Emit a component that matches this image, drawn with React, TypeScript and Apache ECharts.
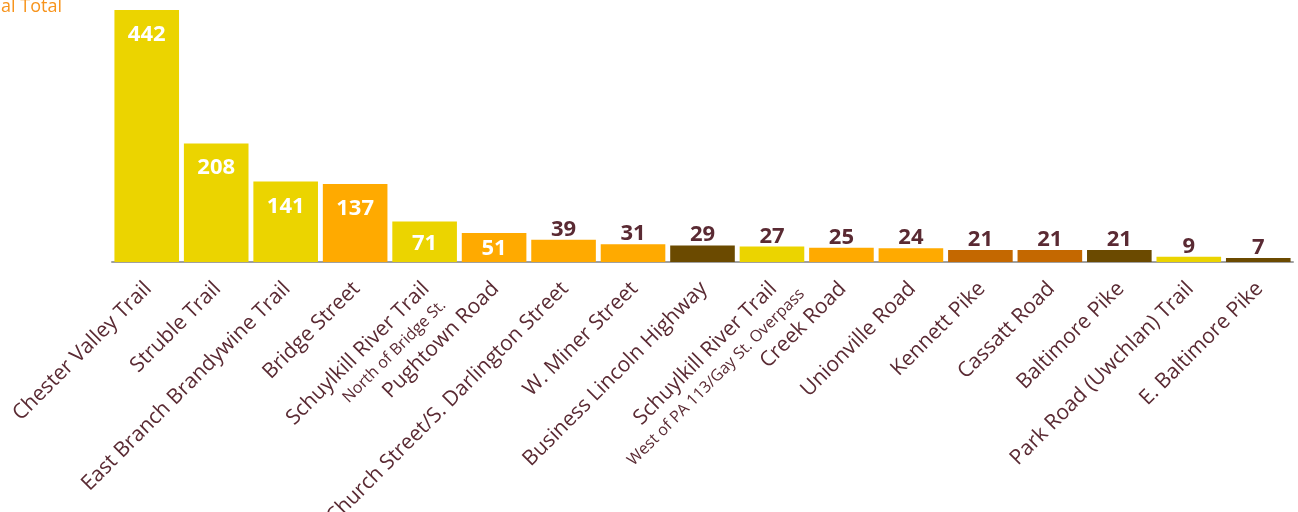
import React, { useEffect, useRef } from "react";
import * as echarts from "echarts";

const categories = [
  "Chester Valley Trail",
  "Struble Trail",
  "East Branch Brandywine Trail",
  "Bridge Street",
  "Schuylkill River Trail|North of Bridge St.",
  "Pughtown Road",
  "Church Street/S. Darlington Street",
  "W. Miner Street",
  "Business Lincoln Highway",
  "Schuylkill River Trail|West of PA 113/Gay St. Overpass",
  "Creek Road",
  "Unionville Road",
  "Kennett Pike",
  "Cassatt Road",
  "Baltimore Pike",
  "Park Road (Uwchlan) Trail",
  "E. Baltimore Pike",
];

const values = [442, 208, 141, 137, 71, 51, 39, 31, 29, 27, 25, 24, 21, 21, 21, 9, 7];

const colorGroups = [
  "yellow", "yellow", "yellow", "orange", "yellow", "orange", "orange", "orange",
  "dark", "yellow", "orange", "orange", "burnt", "burnt", "dark", "yellow", "dark",
];

const palette: Record<string, string> = {
  yellow: "#EBD400",
  orange: "#FFAA00",
  burnt: "#C46800",
  dark: "#6B4A00",
};

const titleText = "Annual Total";
const FONT = "'Open Sans', 'Noto Sans', sans-serif";
const LABEL_COLOR = "#5A2A33";
const Y_MAX = 442;
const PLOT_H = 252;

export default function App() {
  const ref = useRef<HTMLDivElement>(null);

  useEffect(() => {
    if (!ref.current) return;
    const chart = echarts.init(ref.current, undefined, { renderer: "svg" });

    const axisData = categories.map((c) => {
      const parts = c.split("|");
      if (parts.length > 1) {
        const longSub = parts[1].length > 25;
        return {
          value: `{${longSub ? "mainx" : "main"}|${parts[0]}}\n{sub|${parts[1]}}`,
          textStyle: { padding: [22, longSub ? -16 : 0, 0, 0] },
        };
      }
      return { value: `{main|${c}}` };
    });

    const data = values.map((v, i) => {
      const inside = v >= 50;
      const h = (v / Y_MAX) * PLOT_H;
      const d = Math.max(1, Math.min(11, (h - 24) / 2));
      return {
        value: v,
        itemStyle: { color: palette[colorGroups[i]] },
        label: inside
          ? { position: "insideTop", distance: d, color: "#FFFFFF" }
          : { position: "top", distance: 2, color: LABEL_COLOR },
      };
    });

    chart.setOption({
      animation: false,
      grid: {
        left: 112,
        right: 5,
        top: 10,
        bottom: 250,
        containLabel: false,
        outerBoundsMode: "none",
      },
      graphic: [
        {
          type: "text",
          x: 62,
          y: -4,
          style: {
            text: titleText,
            fill: "#F7941D",
            font: `18px ${FONT}`,
            textAlign: "right",
            textVerticalAlign: "top",
          },
        },
      ],
      xAxis: {
        type: "category",
        data: axisData,
        axisLine: { lineStyle: { color: "#A0A0A0", width: 2 } },
        axisTick: { length: 6, lineStyle: { color: "#A0A0A0", width: 2 } },
        axisLabel: {
          rotate: 45,
          interval: 0,
          margin: 22,
          color: LABEL_COLOR,
          fontFamily: FONT,
          rich: {
            main: { fontSize: 21, fontFamily: FONT, color: LABEL_COLOR, lineHeight: 28 },
            mainx: {
              fontSize: 21,
              fontFamily: FONT,
              color: LABEL_COLOR,
              lineHeight: 28,
              padding: [0, 16, 0, 0],
            },
            sub: { fontSize: 16, fontFamily: FONT, color: LABEL_COLOR, lineHeight: 22 },
          },
        },
      },
      yAxis: {
        type: "value",
        min: 0,
        max: Y_MAX,
        show: false,
        splitLine: { show: false },
      },
      series: [
        {
          type: "bar",
          data,
          barCategoryGap: "7%",
          label: {
            show: true,
            fontSize: 22,
            fontWeight: "bold",
            fontFamily: FONT,
          },
        },
      ],
    });

    return () => chart.dispose();
  }, []);

  return (
    <div
      ref={ref}
      style={{ position: "fixed", left: 0, top: 0, width: 1298, height: 512 }}
    />
  );
}
